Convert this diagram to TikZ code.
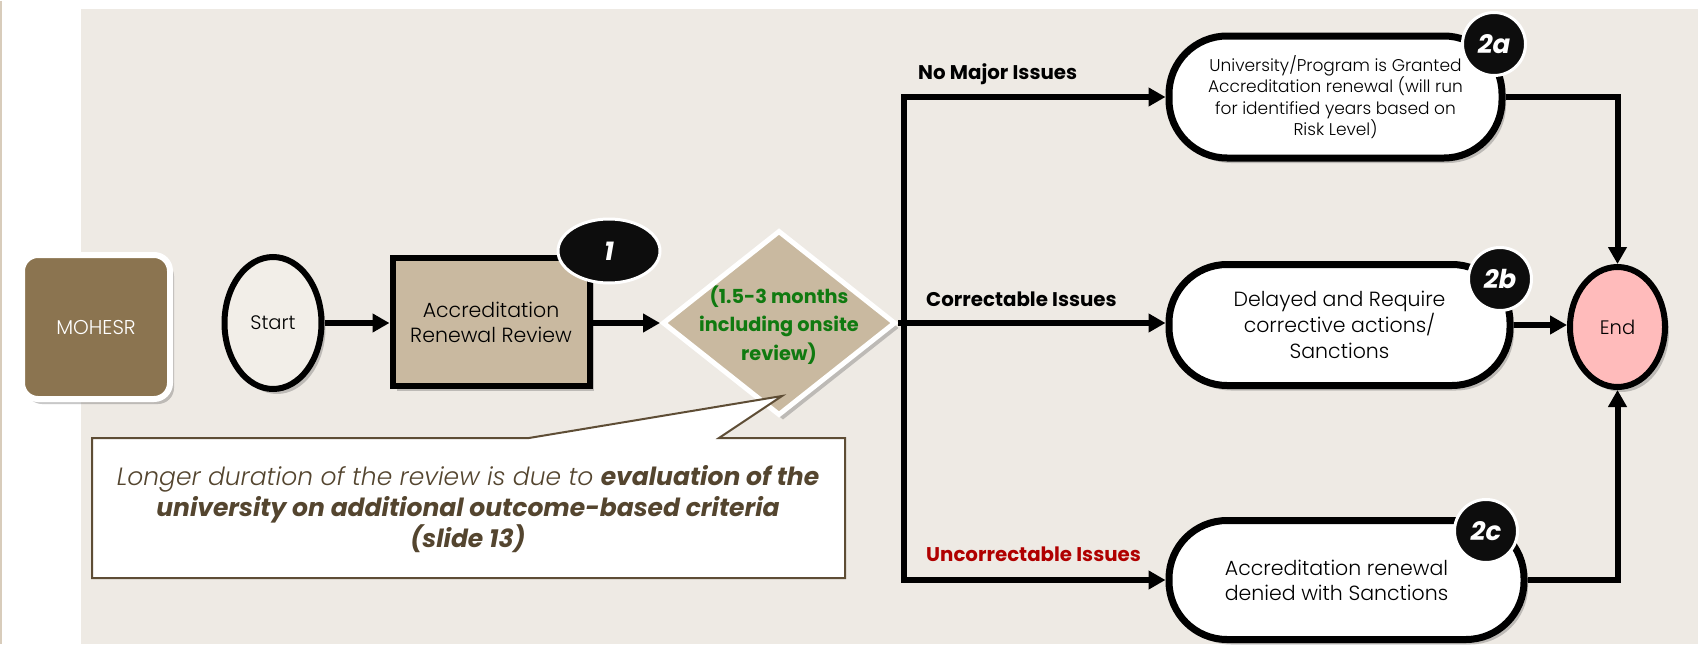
\documentclass[tikz,border=0pt]{standalone}
\usepackage{fontspec}
\setmainfont{Poppins}[UprightFont={* Light},ItalicFont={* Light Italic},BoldFont={* Bold},BoldItalicFont={* Bold Italic}]
\usetikzlibrary{shapes.geometric,arrows.meta,shadows,calc}
\definecolor{panel}{HTML}{EEEAE4}
\definecolor{mohesr}{HTML}{8B7450}
\definecolor{tanfill}{HTML}{C9B9A0}
\definecolor{startfill}{HTML}{F2EEE8}
\definecolor{endfill}{HTML}{FFBBBB}
\definecolor{dgreen}{HTML}{107A10}
\definecolor{dred}{HTML}{B00000}
\definecolor{callbrown}{HTML}{5E4D35}
\definecolor{txtbrown}{HTML}{54452F}
\definecolor{edgeline}{HTML}{D8CCBB}
\newcommand\fsz[2]{\fontsize{#1}{#2}\selectfont}
\begin{document}
\begin{tikzpicture}[x=1pt,y=-1pt,
  shd/.style={drop shadow={shadow xshift=4pt,shadow yshift=-5pt,opacity=0.3,fill=black!70}},
  conn/.style={line width=6pt,draw=black},
  arr/.style={conn,-{Triangle[length=17pt,width=18pt]}},
  outcome/.style={draw=black,line width=7pt,fill=white,rounded corners=58pt,align=center,shd},
  badge/.style={circle,fill=black!95,draw=white,line width=3pt,minimum size=63pt,inner sep=0pt,text=white,font=\fsz{26}{30}\bfseries\itshape},
  lbl/.style={anchor=west,font=\fsz{19.8}{24}\bfseries,inner sep=0pt}
]
\fill[white] (0,0) rectangle (1698,643);
\fill[panel] (81,8) rectangle (1698,643);
\draw[edgeline,line width=2pt] (1,0) -- (1,643);
\useasboundingbox (0,0) rectangle (1698,643);

\node[draw=white,line width=6pt,fill=mohesr,rounded corners=16pt,minimum width=148pt,minimum height=144pt,shd,text=white,font=\fsz{20}{24}] (moh) at (96,326) {MOHESR};

\node[ellipse,draw=black,line width=6pt,fill=startfill,minimum width=97pt,minimum height=132pt,shd,font=\fsz{19.5}{23}] (start) at (273,322) {Start};

\node[draw=black,line width=6pt,fill=tanfill,minimum width=197pt,minimum height=128pt,align=center,shd,font=\fsz{20.5}{25}] (rev) at (491,321) {Accreditation\\Renewal Review};

\node[ellipse,fill=black!95,draw=white,line width=3pt,minimum width=102pt,minimum height=64pt,text=white,font=\fsz{26}{30}\bfseries\itshape] (b1) at (609,250) {1};

\node[diamond,draw=white,line width=5pt,fill=tanfill,minimum width=233pt,minimum height=185pt,inner sep=0pt,shd] (dia) at (779,322) {};
\node[align=center,text=dgreen,font=\fsz{19.3}{28.5}\bfseries] (diat) at (779,324) {(1.5-3 months\\including onsite\\review)};

\draw[arr] (start.east) -- (start.east -| rev.west);
\draw[arr] (rev.east |- dia.west) -- (dia.west);

\node[outcome,minimum width=333pt,minimum height=122pt,font=\fsz{17}{21.5}] (n2a) at (1335.5,96) {University/Program is Granted\\Accreditation renewal (will run\\for identified years based on\\Risk Level)};
\node[outcome,minimum width=341pt,minimum height=121pt,font=\fsz{20.5}{26}] (n2b) at (1339.5,324) {Delayed and Require\\corrective actions/\\Sanctions};
\node[outcome,minimum width=355pt,minimum height=119pt,font=\fsz{20.5}{25}] (n2c) at (1346.5,579) {Accreditation renewal\hspace*{20pt}\\denied with Sanctions\hspace*{20pt}};

\node[ellipse,draw=black,line width=6pt,fill=endfill,minimum width=95pt,minimum height=120pt,shd,font=\fsz{19.5}{23}] (end) at (1617.5,326) {End};

\node[badge] (b2a) at (1494,43) {2a};
\node[badge] (b2b) at (1500,278) {2b};
\node[badge] (b2c) at (1486,530) {2c};

\coordinate (split) at (904,322);
\draw[conn] (dia.east) -- (split);
\draw[arr] (split) |- (n2a.west);
\draw[arr] (split) -- (split -| n2b.west);
\draw[arr] (split) |- (n2c.west);
\draw[arr] (n2a.east) -| (end.north);
\draw[arr] (n2b.east) -- (n2b.east -| end.west);
\draw[arr] (n2c.east) -| (end.south);

\node[lbl] (l1) at (918,73) {No Major Issues};
\node[lbl] (l2) at (926,298) {Correctable Issues};
\node[lbl,text=dred] (l3) at (926,553) {Uncorrectable Issues};

\filldraw[fill=white,draw=callbrown,line width=2pt] (92,437) -- (529,437) -- (782,395) -- (719,437) -- (845,437) -- (845,577) -- (92,577) -- cycle;
\node[align=center,text=txtbrown,font=\fsz{25}{31}\itshape] (callt) at (468,508) {Longer duration of the review is due to {\bfseries evaluation of the}\\{\bfseries university on additional outcome-based criteria}\\{\bfseries (slide 13)}};
\end{tikzpicture}
\end{document}
